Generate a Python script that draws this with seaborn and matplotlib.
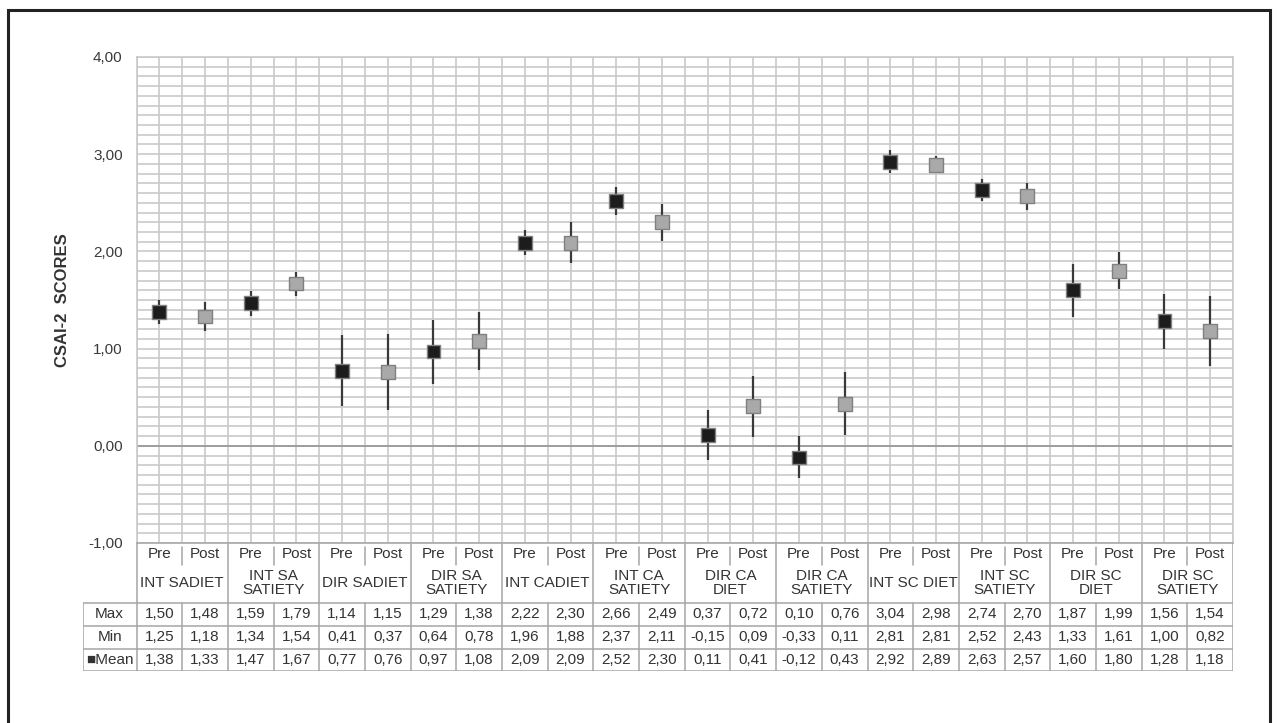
import numpy as np
import pandas as pd
import seaborn as sns
import matplotlib.pyplot as plt
from matplotlib.patches import Rectangle

groups = ["INT SADIET", "INT SA\nSATIETY", "DIR SADIET", "DIR SA\nSATIETY",
          "INT CADIET", "INT CA\nSATIETY", "DIR CA\nDIET", "DIR CA\nSATIETY",
          "INT SC DIET", "INT SC\nSATIETY", "DIR SC\nDIET", "DIR SC\nSATIETY"]
phases = ["Pre", "Post"]

max_vals = [1.50, 1.48, 1.59, 1.79, 1.14, 1.15, 1.29, 1.38, 2.22, 2.30, 2.66, 2.49,
            0.37, 0.72, 0.10, 0.76, 3.04, 2.98, 2.74, 2.70, 1.87, 1.99, 1.56, 1.54]
min_vals = [1.25, 1.18, 1.34, 1.54, 0.41, 0.37, 0.64, 0.78, 1.96, 1.88, 2.37, 2.11,
            -0.15, 0.09, -0.33, 0.11, 2.81, 2.81, 2.52, 2.43, 1.33, 1.61, 1.00, 0.82]
mean_vals = [1.38, 1.33, 1.47, 1.67, 0.77, 0.76, 0.97, 1.08, 2.09, 2.09, 2.52, 2.30,
             0.11, 0.41, -0.12, 0.43, 2.92, 2.89, 2.63, 2.57, 1.60, 1.80, 1.28, 1.18]

y_ticks = [-1, 0, 1, 2, 3, 4]

df = pd.DataFrame({
    "pos": np.arange(len(mean_vals)),
    "phase": phases * len(groups),
    "Max": max_vals,
    "Min": min_vals,
    "Mean": mean_vals,
})


def comma(v):
    return f"{v:.2f}".replace(".", ",")


sns.set_style("white")
plt.rcParams["font.family"] = ["Liberation Sans", "DejaVu Sans"]

W, H = 1279, 723
fig = plt.figure(figsize=(W / 100, H / 100), dpi=100)

# plot area in pixels
px_l, px_r, px_t, px_b = 136.5, 1233, 57, 543
ax = fig.add_axes([px_l / W, 1 - px_b / H, (px_r - px_l) / W, (px_b - px_t) / H])

grid_c = "#c9c9c9"
ax.set_xlim(-0.5, len(mean_vals) - 0.5)
ax.set_ylim(-1, 4)
ax.set_yticks(y_ticks)
ax.set_yticklabels([comma(t) for t in y_ticks], color="#3a3a3a", fontsize=11)
ax.set_yticks(np.arange(-1, 4.001, 0.1), minor=True)
ax.set_xticks(np.arange(-0.5, len(mean_vals), 0.5))
ax.set_xticklabels([])
ax.tick_params(axis="both", which="both", length=0, pad=10)
ax.grid(True, which="both", color=grid_c, lw=1.2)
ax.set_axisbelow(True)
ax.axhline(0, color="#9a9a9a", lw=1.3, zorder=1)
for sp in ax.spines.values():
    sp.set_color(grid_c)
    sp.set_linewidth(1.2)
ax.spines["bottom"].set_color("#a8a8a8")

ax.vlines(df["pos"], df["Min"], df["Max"], color="#3a3a3a", lw=1.6, zorder=2)
sns.scatterplot(data=df, x="pos", y="Mean", hue="phase",
                palette={"Pre": "#1c1c1c", "Post": "#a9a9a9"},
                marker="s", s=100, edgecolor="#808080", linewidth=1.0,
                legend=False, zorder=3, ax=ax)
ax.set_xlabel("")
ax.set_ylabel("CSAI-2  SCORES", fontsize=12, fontweight="bold", color="#333333",
              labelpad=13)

# data table under the plot
tbl_l, tbl_b = 82.7, 671
unit = (px_r - px_l) / len(mean_vals)
tax = fig.add_axes([tbl_l / W, 1 - tbl_b / H, (px_r - tbl_l) / W, (tbl_b - px_b) / H])
tax.set_xlim(-0.5 - (px_l - tbl_l) / unit, len(mean_vals) - 0.5)
tax.set_ylim(tbl_b - px_b, 0)
tax.axis("off")

line_c = "#a6a6a6"
txt_c = "#333333"
fs = 11
n = len(mean_vals)
x_lab0 = -0.5 - (px_l - tbl_l) / unit

# header: Pre / Post row and group names
for i in range(n):
    tax.text(i, 10.5, phases[i % 2], ha="center", va="center", fontsize=fs, color=txt_c)
for g, name in enumerate(groups):
    tax.text(2 * g + 0.5, 40, name, ha="center", va="center", fontsize=fs,
             color=txt_c, linespacing=1.0)
    tax.plot([2 * g + 0.5] * 2, [4, 22], color=line_c, lw=1.1)
for b in np.arange(-0.5, n, 2):
    tax.plot([b, b], [0, 60], color=line_c, lw=1.1)

# value rows
row_names = ["Max", "Min", "\u25a0Mean"]
row_vals = [max_vals, min_vals, mean_vals]
row_edges = [60, 83, 105.5, 128]
for r, (name, vals) in enumerate(zip(row_names, row_vals)):
    yc = (row_edges[r] + row_edges[r + 1]) / 2
    tax.text((x_lab0 - 0.5) / 2, yc, name, ha="center", va="center", fontsize=fs,
             color=txt_c)
    for i, v in enumerate(vals):
        tax.text(i, yc, comma(v), ha="center", va="center", fontsize=fs, color=txt_c)
for e in row_edges:
    tax.plot([x_lab0, n - 0.5], [e, e], color=line_c, lw=1.1)
for b in [x_lab0] + list(np.arange(-0.5, n, 1)):
    tax.plot([b, b], [60, 128], color=line_c, lw=1.1)

# outer frame
fig.patches.append(Rectangle((8 / W, -0.05), (1270 - 8) / W, 1.05 - 10 / H,
                             transform=fig.transFigure, fill=False,
                             edgecolor="#222222", lw=2.2))

fig.savefig("out.png", dpi=100)
